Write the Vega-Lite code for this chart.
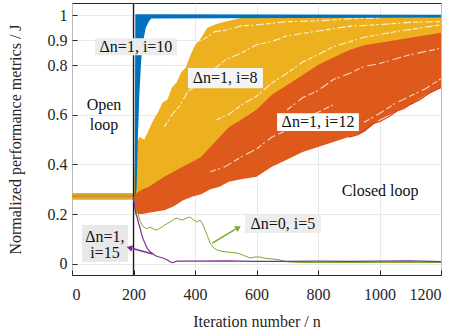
{
  "$schema": "https://vega.github.io/schema/vega-lite/v6.json",
  "width": 369,
  "height": 272,
  "autosize": "none",
  "padding": {"left": 72, "top": 3, "right": 17, "bottom": 61},
  "background": "white",
  "config": {
    "view": {"stroke": "#262626", "strokeWidth": 1},
    "font": "'Liberation Serif', 'Times New Roman', serif",
    "text": {"font": "'Liberation Serif', 'Times New Roman', serif"},
    "axis": {
      "labelFont": "'Liberation Serif', 'Times New Roman', serif",
      "titleFont": "'Liberation Serif', 'Times New Roman', serif",
      "labelFontSize": 16,
      "titleFontSize": 16,
      "titleFontWeight": "normal",
      "labelColor": "#262626",
      "titleColor": "#262626",
      "gridColor": "#E3E3E3",
      "gridWidth": 0.8,
      "domain": false,
      "tickColor": "#262626",
      "tickSize": -5
    }
  },
  "datasets": {
    "bands": [
      {"g": "P", "n": 0, "v": 0.258, "v2": 0.285},
      {"g": "P", "n": 200, "v": 0.258, "v2": 0.285},
      {"g": "Y", "n": 200, "v": 0.25, "v2": 0.29},
      {"g": "Y", "n": 203, "v": 0.22, "v2": 0.38},
      {"g": "Y", "n": 206, "v": 0.2, "v2": 0.46},
      {"g": "Y", "n": 210, "v": 0.2, "v2": 0.49},
      {"g": "Y", "n": 220, "v": 0.21, "v2": 0.51},
      {"g": "Y", "n": 235, "v": 0.21, "v2": 0.5},
      {"g": "Y", "n": 250, "v": 0.22, "v2": 0.54},
      {"g": "Y", "n": 265, "v": 0.22, "v2": 0.58},
      {"g": "Y", "n": 280, "v": 0.23, "v2": 0.61},
      {"g": "Y", "n": 295, "v": 0.23, "v2": 0.65},
      {"g": "Y", "n": 310, "v": 0.24, "v2": 0.66},
      {"g": "Y", "n": 325, "v": 0.25, "v2": 0.71},
      {"g": "Y", "n": 340, "v": 0.26, "v2": 0.73},
      {"g": "Y", "n": 355, "v": 0.27, "v2": 0.77},
      {"g": "Y", "n": 370, "v": 0.28, "v2": 0.79},
      {"g": "Y", "n": 385, "v": 0.29, "v2": 0.84},
      {"g": "Y", "n": 400, "v": 0.3, "v2": 0.88},
      {"g": "Y", "n": 420, "v": 0.32, "v2": 0.91},
      {"g": "Y", "n": 440, "v": 0.34, "v2": 0.95},
      {"g": "Y", "n": 470, "v": 0.37, "v2": 0.965},
      {"g": "Y", "n": 500, "v": 0.4, "v2": 0.975},
      {"g": "Y", "n": 550, "v": 0.45, "v2": 0.99},
      {"g": "Y", "n": 600, "v": 0.5, "v2": 0.99},
      {"g": "Y", "n": 700, "v": 0.6, "v2": 0.995},
      {"g": "Y", "n": 800, "v": 0.7, "v2": 1.0},
      {"g": "Y", "n": 900, "v": 0.77, "v2": 1.0},
      {"g": "Y", "n": 1000, "v": 0.83, "v2": 1.0},
      {"g": "Y", "n": 1100, "v": 0.87, "v2": 1.0},
      {"g": "Y", "n": 1200, "v": 0.9, "v2": 1.0},
      {"g": "O", "n": 203, "v": 0.26, "v2": 0.27},
      {"g": "O", "n": 206, "v": 0.21, "v2": 0.28},
      {"g": "O", "n": 215, "v": 0.2, "v2": 0.29},
      {"g": "O", "n": 230, "v": 0.2, "v2": 0.3},
      {"g": "O", "n": 250, "v": 0.205, "v2": 0.31},
      {"g": "O", "n": 275, "v": 0.21, "v2": 0.33},
      {"g": "O", "n": 300, "v": 0.215, "v2": 0.35},
      {"g": "O", "n": 330, "v": 0.23, "v2": 0.37},
      {"g": "O", "n": 360, "v": 0.255, "v2": 0.39},
      {"g": "O", "n": 390, "v": 0.27, "v2": 0.41},
      {"g": "O", "n": 420, "v": 0.28, "v2": 0.43},
      {"g": "O", "n": 450, "v": 0.3, "v2": 0.47},
      {"g": "O", "n": 480, "v": 0.31, "v2": 0.51},
      {"g": "O", "n": 510, "v": 0.33, "v2": 0.55},
      {"g": "O", "n": 550, "v": 0.34, "v2": 0.58},
      {"g": "O", "n": 600, "v": 0.35, "v2": 0.62},
      {"g": "O", "n": 650, "v": 0.39, "v2": 0.68},
      {"g": "O", "n": 700, "v": 0.42, "v2": 0.72},
      {"g": "O", "n": 750, "v": 0.45, "v2": 0.76},
      {"g": "O", "n": 800, "v": 0.47, "v2": 0.8},
      {"g": "O", "n": 850, "v": 0.49, "v2": 0.83},
      {"g": "O", "n": 900, "v": 0.51, "v2": 0.86},
      {"g": "O", "n": 950, "v": 0.53, "v2": 0.88},
      {"g": "O", "n": 1000, "v": 0.58, "v2": 0.89},
      {"g": "O", "n": 1050, "v": 0.61, "v2": 0.9},
      {"g": "O", "n": 1100, "v": 0.64, "v2": 0.91},
      {"g": "O", "n": 1150, "v": 0.68, "v2": 0.92},
      {"g": "O", "n": 1200, "v": 0.71, "v2": 0.93},
      {"g": "B", "n": 204, "v": 0.27, "v2": 0.45},
      {"g": "B", "n": 206, "v": 0.27, "v2": 1.005},
      {"g": "B", "n": 210, "v": 0.3, "v2": 1.005},
      {"g": "B", "n": 214, "v": 0.5, "v2": 1.005},
      {"g": "B", "n": 219, "v": 0.68, "v2": 1.005},
      {"g": "B", "n": 225, "v": 0.82, "v2": 1.005},
      {"g": "B", "n": 232, "v": 0.9, "v2": 1.005},
      {"g": "B", "n": 240, "v": 0.95, "v2": 1.005},
      {"g": "B", "n": 250, "v": 0.975, "v2": 1.005},
      {"g": "B", "n": 258, "v": 0.988, "v2": 1.005},
      {"g": "B", "n": 1200, "v": 0.992, "v2": 1.003}
    ],
    "lines": [
      {"g": "Pc", "n": 0, "v": 0.272},
      {"g": "Pc", "n": 200, "v": 0.272},
      {"g": "Yl", "n": 480, "v": 0.55},
      {"g": "Yl", "n": 550, "v": 0.6},
      {"g": "Yl", "n": 600, "v": 0.645},
      {"g": "Yl", "n": 650, "v": 0.7},
      {"g": "Yl", "n": 700, "v": 0.745},
      {"g": "Yl", "n": 750, "v": 0.785},
      {"g": "Yl", "n": 800, "v": 0.822},
      {"g": "Yl", "n": 850, "v": 0.85},
      {"g": "Yl", "n": 900, "v": 0.877},
      {"g": "Yl", "n": 950, "v": 0.895},
      {"g": "Yl", "n": 1000, "v": 0.905},
      {"g": "Yl", "n": 1050, "v": 0.915},
      {"g": "Yl", "n": 1100, "v": 0.925},
      {"g": "Yl", "n": 1150, "v": 0.935},
      {"g": "Yl", "n": 1200, "v": 0.945},
      {"g": "R", "n": 900, "v": 0.51},
      {"g": "R", "n": 930, "v": 0.52},
      {"g": "R", "n": 950, "v": 0.535},
      {"g": "R", "n": 980, "v": 0.565},
      {"g": "R", "n": 1000, "v": 0.572},
      {"g": "R", "n": 1030, "v": 0.592},
      {"g": "R", "n": 1057, "v": 0.615},
      {"g": "R", "n": 1080, "v": 0.625},
      {"g": "R", "n": 1100, "v": 0.642},
      {"g": "R", "n": 1130, "v": 0.66},
      {"g": "R", "n": 1160, "v": 0.686},
      {"g": "R", "n": 1200, "v": 0.71},
      {"g": "G", "n": 200, "v": 0.27},
      {"g": "G", "n": 204, "v": 0.24},
      {"g": "G", "n": 208, "v": 0.22},
      {"g": "G", "n": 215, "v": 0.2},
      {"g": "G", "n": 222, "v": 0.17},
      {"g": "G", "n": 231, "v": 0.15},
      {"g": "G", "n": 238, "v": 0.145},
      {"g": "G", "n": 244, "v": 0.14},
      {"g": "G", "n": 252, "v": 0.148},
      {"g": "G", "n": 260, "v": 0.143},
      {"g": "G", "n": 268, "v": 0.138},
      {"g": "G", "n": 276, "v": 0.135},
      {"g": "G", "n": 284, "v": 0.142},
      {"g": "G", "n": 293, "v": 0.148},
      {"g": "G", "n": 300, "v": 0.155},
      {"g": "G", "n": 310, "v": 0.162},
      {"g": "G", "n": 319, "v": 0.168},
      {"g": "G", "n": 330, "v": 0.178},
      {"g": "G", "n": 341, "v": 0.184},
      {"g": "G", "n": 350, "v": 0.178},
      {"g": "G", "n": 361, "v": 0.176},
      {"g": "G", "n": 372, "v": 0.184},
      {"g": "G", "n": 384, "v": 0.188},
      {"g": "G", "n": 395, "v": 0.176},
      {"g": "G", "n": 406, "v": 0.168},
      {"g": "G", "n": 416, "v": 0.176},
      {"g": "G", "n": 425, "v": 0.16},
      {"g": "G", "n": 433, "v": 0.135},
      {"g": "G", "n": 441, "v": 0.11},
      {"g": "G", "n": 449, "v": 0.083},
      {"g": "G", "n": 460, "v": 0.065},
      {"g": "G", "n": 472, "v": 0.055},
      {"g": "G", "n": 488, "v": 0.05},
      {"g": "G", "n": 504, "v": 0.047},
      {"g": "G", "n": 520, "v": 0.045},
      {"g": "G", "n": 537, "v": 0.043},
      {"g": "G", "n": 555, "v": 0.035},
      {"g": "G", "n": 579, "v": 0.023},
      {"g": "G", "n": 595, "v": 0.027},
      {"g": "G", "n": 611, "v": 0.027},
      {"g": "G", "n": 628, "v": 0.022},
      {"g": "G", "n": 644, "v": 0.02},
      {"g": "G", "n": 660, "v": 0.018},
      {"g": "G", "n": 676, "v": 0.015},
      {"g": "G", "n": 692, "v": 0.01},
      {"g": "G", "n": 709, "v": 0.007},
      {"g": "G", "n": 741, "v": 0.005},
      {"g": "G", "n": 800, "v": 0.005},
      {"g": "G", "n": 1200, "v": 0.005},
      {"g": "V", "n": 200, "v": 0.27},
      {"g": "V", "n": 203, "v": 0.24},
      {"g": "V", "n": 205, "v": 0.22},
      {"g": "V", "n": 208, "v": 0.2},
      {"g": "V", "n": 211, "v": 0.19},
      {"g": "V", "n": 216, "v": 0.165},
      {"g": "V", "n": 221, "v": 0.145},
      {"g": "V", "n": 226, "v": 0.12},
      {"g": "V", "n": 231, "v": 0.1},
      {"g": "V", "n": 238, "v": 0.08},
      {"g": "V", "n": 244, "v": 0.063},
      {"g": "V", "n": 252, "v": 0.05},
      {"g": "V", "n": 260, "v": 0.043},
      {"g": "V", "n": 270, "v": 0.033},
      {"g": "V", "n": 283, "v": 0.027},
      {"g": "V", "n": 296, "v": 0.023},
      {"g": "V", "n": 310, "v": 0.015},
      {"g": "V", "n": 322, "v": 0.006},
      {"g": "V", "n": 328, "v": 0.004},
      {"g": "V", "n": 335, "v": 0.008},
      {"g": "V", "n": 341, "v": 0.01},
      {"g": "V", "n": 400, "v": 0.01},
      {"g": "V", "n": 500, "v": 0.011},
      {"g": "V", "n": 600, "v": 0.009},
      {"g": "V", "n": 700, "v": 0.009},
      {"g": "V", "n": 800, "v": 0.01},
      {"g": "V", "n": 900, "v": 0.009},
      {"g": "V", "n": 1000, "v": 0.01},
      {"g": "V", "n": 1100, "v": 0.011},
      {"g": "V", "n": 1200, "v": 0.008}
    ],
    "streaks": [
      {"g": "W1", "n": 330, "v": 0.78},
      {"g": "W1", "n": 355, "v": 0.83},
      {"g": "W1", "n": 380, "v": 0.855},
      {"g": "W1", "n": 405, "v": 0.895},
      {"g": "W1", "n": 430, "v": 0.905},
      {"g": "W1", "n": 465, "v": 0.935},
      {"g": "W1", "n": 500, "v": 0.94},
      {"g": "W1", "n": 550, "v": 0.958},
      {"g": "W1", "n": 600, "v": 0.962},
      {"g": "W1", "n": 700, "v": 0.975},
      {"g": "W1", "n": 800, "v": 0.978},
      {"g": "W1", "n": 900, "v": 0.986},
      {"g": "W1", "n": 1000, "v": 0.99},
      {"g": "W2", "n": 300, "v": 0.55},
      {"g": "W2", "n": 325, "v": 0.6},
      {"g": "W2", "n": 350, "v": 0.635},
      {"g": "W2", "n": 375, "v": 0.69},
      {"g": "W2", "n": 400, "v": 0.715},
      {"g": "W2", "n": 425, "v": 0.755},
      {"g": "W2", "n": 450, "v": 0.772},
      {"g": "W2", "n": 500, "v": 0.822},
      {"g": "W2", "n": 550, "v": 0.848},
      {"g": "W2", "n": 600, "v": 0.882},
      {"g": "W2", "n": 650, "v": 0.895},
      {"g": "W2", "n": 700, "v": 0.918},
      {"g": "W2", "n": 800, "v": 0.937},
      {"g": "W2", "n": 900, "v": 0.956},
      {"g": "W2", "n": 1000, "v": 0.963},
      {"g": "W2", "n": 1100, "v": 0.972},
      {"g": "W2", "n": 1200, "v": 0.975},
      {"g": "W3", "n": 470, "v": 0.58},
      {"g": "W3", "n": 510, "v": 0.602},
      {"g": "W3", "n": 550, "v": 0.638},
      {"g": "W3", "n": 600, "v": 0.675},
      {"g": "W3", "n": 650, "v": 0.728},
      {"g": "W3", "n": 700, "v": 0.768},
      {"g": "W3", "n": 750, "v": 0.812},
      {"g": "W3", "n": 800, "v": 0.842},
      {"g": "W3", "n": 850, "v": 0.874},
      {"g": "W3", "n": 950, "v": 0.912},
      {"g": "W3", "n": 1050, "v": 0.934},
      {"g": "W3", "n": 1200, "v": 0.962},
      {"g": "X1", "n": 700, "v": 0.62},
      {"g": "X1", "n": 750, "v": 0.668},
      {"g": "X1", "n": 800, "v": 0.697},
      {"g": "X1", "n": 850, "v": 0.742},
      {"g": "X1", "n": 900, "v": 0.765},
      {"g": "X1", "n": 950, "v": 0.795},
      {"g": "X1", "n": 1000, "v": 0.806},
      {"g": "X1", "n": 1100, "v": 0.842},
      {"g": "X1", "n": 1200, "v": 0.868},
      {"g": "X2", "n": 950, "v": 0.57},
      {"g": "X2", "n": 1000, "v": 0.605},
      {"g": "X2", "n": 1050, "v": 0.645},
      {"g": "X2", "n": 1100, "v": 0.675},
      {"g": "X2", "n": 1150, "v": 0.705},
      {"g": "X2", "n": 1200, "v": 0.745},
      {"g": "X3", "n": 450, "v": 0.37},
      {"g": "X3", "n": 500, "v": 0.392},
      {"g": "X3", "n": 550, "v": 0.43},
      {"g": "X3", "n": 600, "v": 0.462},
      {"g": "X3", "n": 650, "v": 0.51},
      {"g": "X3", "n": 700, "v": 0.538},
      {"g": "X3", "n": 750, "v": 0.58},
      {"g": "X3", "n": 850, "v": 0.64}
    ],
    "boxes": [
      {"b": "i10", "n": 75, "n2": 341, "v": 0.84, "v2": 0.908},
      {"b": "i8", "n": 377, "n2": 621, "v": 0.707, "v2": 0.788},
      {"b": "i12", "n": 667, "n2": 933, "v": 0.534, "v2": 0.606},
      {"b": "i5", "n": 563, "n2": 810, "v": 0.124, "v2": 0.196},
      {"b": "i15", "n": 33, "n2": 182, "v": 0.007, "v2": 0.156}
    ],
    "labels": [
      {"t": "Δn=1, i=10", "n": 208, "v": 0.874},
      {"t": "Δn=1, i=8", "n": 498, "v": 0.747},
      {"t": "Δn=1, i=12", "n": 800, "v": 0.57},
      {"t": "Δn=0, i=5", "n": 686, "v": 0.16},
      {"t": "Δn=1,", "n": 107, "v": 0.107},
      {"t": "i=15", "n": 107, "v": 0.043},
      {"t": "Open", "n": 104, "v": 0.639},
      {"t": "loop", "n": 104, "v": 0.558},
      {"t": "Closed loop", "n": 1002, "v": 0.293}
    ],
    "arrows": [
      {"g": "G", "n": 456, "v": 0.083, "n2": 532, "v2": 0.139},
      {"g": "V", "n": 262, "v": 0.039, "n2": 197, "v2": 0.061}
    ],
    "heads": [
      {"g": "G", "n": 538, "v": 0.143},
      {"g": "V", "n": 190, "v": 0.063}
    ],
    "divider": [{"n": 200, "v": -0.0455, "v2": 1.05}]
  },
  "encoding": {
    "x": {
      "field": "n",
      "type": "quantitative",
      "scale": {"domain": [0, 1200], "nice": false, "zero": false},
      "axis": {"values": [0, 200, 400, 600, 800, 1000, 1200], "format": "d", "title": "Iteration number / n", "labelPadding": 16, "titlePadding": 11, "grid": true}
    },
    "y": {
      "field": "v",
      "type": "quantitative",
      "scale": {"domain": [-0.0455, 1.05], "nice": false, "zero": false},
      "axis": {"values": [0, 0.2, 0.4, 0.6, 0.8, 0.9, 1], "format": "~g", "title": "Normalized performance metrics / J", "labelPadding": 10, "titlePadding": 24, "grid": true}
    }
  },
  "layer": [
    {"data": {"name": "bands"}, "transform": [{"filter": "datum.g == 'Y'"}], "mark": {"type": "area", "color": "#EDB120", "clip": true}, "encoding": {"y2": {"field": "v2"}}},
    {"data": {"name": "streaks"}, "transform": [{"filter": "indexof(['W1','W2','W3'], datum.g) >= 0"}], "mark": {"type": "line", "color": "#FFFFFF", "strokeWidth": 1.1, "strokeDash": [5, 2, 2, 3, 8, 2], "opacity": 0.8, "clip": true}, "encoding": {"detail": {"field": "g"}}},
    {"data": {"name": "bands"}, "transform": [{"filter": "datum.g == 'O'"}], "mark": {"type": "area", "color": "#DE5A1C", "clip": true}, "encoding": {"y2": {"field": "v2"}}},
    {"data": {"name": "lines"}, "transform": [{"filter": "datum.g == 'Yl'"}], "mark": {"type": "line", "color": "#EDB120", "strokeWidth": 1.5, "clip": true}, "encoding": {}},
    {"data": {"name": "streaks"}, "transform": [{"filter": "indexof(['X1','X2','X3'], datum.g) >= 0"}], "mark": {"type": "line", "color": "#FFFFFF", "strokeWidth": 1.1, "strokeDash": [6, 2, 2, 4, 9, 3], "opacity": 0.75, "clip": true}, "encoding": {"detail": {"field": "g"}}},
    {"data": {"name": "lines"}, "transform": [{"filter": "datum.g == 'R'"}], "mark": {"type": "line", "color": "#D8431C", "strokeWidth": 1.3, "clip": true}, "encoding": {}},
    {"data": {"name": "bands"}, "transform": [{"filter": "datum.g == 'P'"}], "mark": {"type": "area", "color": "#E3A72A"}, "encoding": {"y2": {"field": "v2"}}},
    {"data": {"name": "lines"}, "transform": [{"filter": "datum.g == 'Pc'"}], "mark": {"type": "line", "color": "#B98A2A", "strokeWidth": 1.2}, "encoding": {}},
    {"data": {"name": "bands"}, "transform": [{"filter": "datum.g == 'B'"}], "mark": {"type": "area", "color": "#0072BD", "clip": true}, "encoding": {"y2": {"field": "v2"}}},
    {"data": {"name": "divider"}, "mark": {"type": "rule", "color": "#1A1A1A", "strokeWidth": 1.3}, "encoding": {"y2": {"field": "v2"}}},
    {"data": {"name": "lines"}, "transform": [{"filter": "datum.g == 'G'"}], "mark": {"type": "line", "color": "#77AC30", "strokeWidth": 1, "clip": true}, "encoding": {}},
    {"data": {"name": "lines"}, "transform": [{"filter": "datum.g == 'V'"}], "mark": {"type": "line", "color": "#7E2F8E", "strokeWidth": 1.2, "clip": true}, "encoding": {}},
    {"data": {"name": "boxes"}, "mark": {"type": "rect"}, "encoding": {"x2": {"field": "n2"}, "y2": {"field": "v2"}, "color": {"field": "b", "type": "nominal", "scale": {"domain": ["i10", "i8", "i12", "i5", "i15"], "range": ["#ECECEC", "#F4F4F4", "#FFFFFF", "#EDEDED", "#E8E8E8"]}, "legend": null}}},
    {"data": {"name": "labels"}, "mark": {"type": "text", "font": "'Liberation Serif', 'Times New Roman', serif", "fontSize": 16, "color": "#111111", "align": "center", "baseline": "middle"}, "encoding": {"text": {"field": "t"}}},
    {"data": {"name": "arrows"}, "transform": [{"filter": "datum.g == 'G'"}], "mark": {"type": "rule", "color": "#77AC30", "strokeWidth": 1.5}, "encoding": {"x2": {"field": "n2"}, "y2": {"field": "v2"}}},
    {"data": {"name": "arrows"}, "transform": [{"filter": "datum.g == 'V'"}], "mark": {"type": "rule", "color": "#7E2F8E", "strokeWidth": 1.5}, "encoding": {"x2": {"field": "n2"}, "y2": {"field": "v2"}}},
    {"data": {"name": "heads"}, "transform": [{"filter": "datum.g == 'G'"}], "mark": {"type": "point", "shape": "triangle", "filled": true, "size": 45, "angle": 59, "color": "#77AC30", "opacity": 1}, "encoding": {}},
    {"data": {"name": "heads"}, "transform": [{"filter": "datum.g == 'V'"}], "mark": {"type": "point", "shape": "triangle", "filled": true, "size": 45, "angle": 285, "color": "#7E2F8E", "opacity": 1}, "encoding": {}}
  ]
}
